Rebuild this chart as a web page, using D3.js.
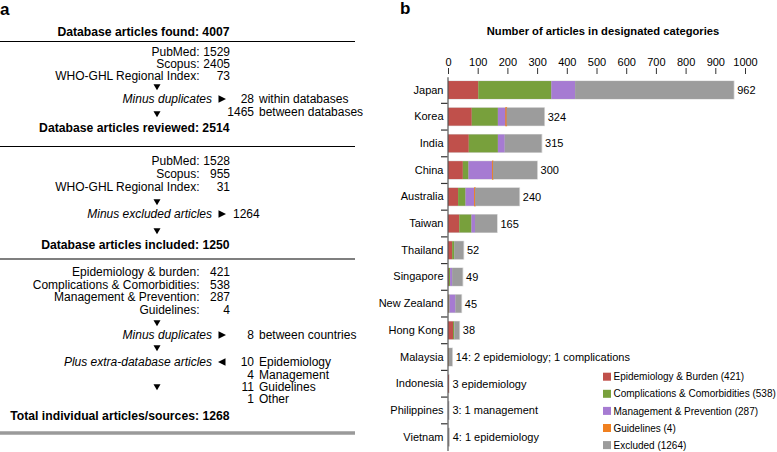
<!DOCTYPE html>
<html><head><meta charset="utf-8">
<script src="https://cdn.jsdelivr.net/npm/d3@7"></script>
<style>
body{margin:0;background:#fff;}
svg{font-family:"Liberation Sans",Arial,Helvetica,sans-serif;}
</style></head>
<body><svg id="chart" width="777" height="452"></svg>
<script>
// ---------- Panel a data (flow diagram) ----------
const stageTitles = ["Database articles found: 4007", "Database articles reviewed: 2514",
  "Database articles included: 1250", "Total individual articles/sources: 1268"];
const sourcesFound = [["PubMed:", 1529], ["Scopus:", 2405], ["WHO-GHL Regional Index:", 73]];
const duplicatesLabel = "Minus duplicates";
const duplicatesRemoved = [[28, "within databases"], [1465, "between databases"]];
const sourcesReviewed = [["PubMed:", 1528], ["Scopus:", 955], ["WHO-GHL Regional Index:", 31]];
const excludedLabel = "Minus excluded articles";
const excludedCount = 1264;
const includedCategories = [["Epidemiology & burden:", 421], ["Complications & Comorbidities:", 538],
  ["Management & Prevention:", 287], ["Guidelines:", 4]];
const countryDuplicates = [[8, "between countries"]];
const extraLabel = "Plus extra-database articles";
const extraArticles = [[10, "Epidemiology"], [4, "Management"], [11, "Guidelines"], [1, "Other"]];

// ---------- Panel b data ----------
const chartTitle = "Number of articles in designated categories";
const countries = ["Japan", "Korea", "India", "China", "Australia", "Taiwan", "Thailand", "Singapore",
  "New Zealand", "Hong Kong", "Malaysia", "Indonesia", "Philippines", "Vietnam"];
const epidemiology  = [102, 80, 70, 50, 34, 38, 14, 3, 2, 17, 2, 3, 0, 1];
const complications = [246, 88, 98, 19, 25, 41, 7, 4, 3, 4, 1, 0, 0, 0];
const management    = [80, 27, 23, 81, 31, 12, 0, 7, 20, 1, 0, 0, 1, 0];
const guidelines    = [0, 2, 0, 1, 1, 0, 0, 0, 0, 0, 0, 0, 0, 0];
const excluded      = [534, 127, 124, 149, 149, 74, 31, 35, 20, 16, 11, 0, 2, 3];
const barLabels = ["962", "324", "315", "300", "240", "165", "52", "49", "45", "38",
  "14: 2 epidemiology; 1 complications", "3 epidemiology", "3: 1 management", "4: 1 epidemiology"];
const seriesKeys = ["epi", "comp", "mgmt", "guide", "excl"];
const seriesNames = ["Epidemiology & Burden (421)", "Complications & Comorbidities (538)",
  "Management & Prevention (287)", "Guidelines (4)", "Excluded (1264)"];
const seriesColors = ["#c0504b", "#78a03c", "#a67bd2", "#f08020", "#9c9c9c"];
const xTicks = [0, 100, 200, 300, 400, 500, 600, 700, 800, 900, 1000];

const svg = d3.select("#chart");

// ================= Panel a =================
const A = svg.append("g");
A.append("text").attr("x", 0).attr("y", 15).attr("font-size", 17).attr("font-weight", "bold").text("a");
const colonX = 199.5, numX = 230, arrowX = 157, sideX = 222, sideNumX = 254, sideWordX = 259;
function down(y){ A.append("path").attr("d", `M${arrowX-3.5},${y-2.8}L${arrowX+3.5},${y-2.8}L${arrowX},${y+3.2}Z`).attr("fill","#000"); }
function right(y){ A.append("path").attr("d", `M${sideX-3.5},${y-3.8}L${sideX+4},${y}L${sideX-3.5},${y+3.8}Z`).attr("fill","#000"); }
function left(y){ A.append("path").attr("d", `M${sideX+3.5},${y-3.8}L${sideX-4},${y}L${sideX+3.5},${y+3.8}Z`).attr("fill","#000"); }
function title(t, y){ A.append("text").attr("x", 229.5).attr("y", y+4.3).attr("text-anchor","end")
  .attr("font-size", 12.2).attr("font-weight","bold").text(t); }
function rule(y, color, w){ A.append("line").attr("x1",0).attr("x2",355).attr("y1",y).attr("y2",y)
  .attr("stroke",color).attr("stroke-width",w); }
function pairs(list, y0, dy){
  list.forEach((d,i)=>{
    const y = y0 + i*dy + 4.2;
    A.append("text").attr("x", colonX).attr("y", y).attr("text-anchor","end").attr("font-size",12).text(d[0]);
    A.append("text").attr("x", numX).attr("y", y).attr("text-anchor","end").attr("font-size",12).text(d[1]);
  });
}
function italic(t, y){ A.append("text").attr("x", 212).attr("y", y+4.2).attr("text-anchor","end")
  .attr("font-size",12).attr("font-style","italic").text(t); }
function side(list, y0, dy){
  list.forEach((d,i)=>{
    const y = y0 + i*dy + 4.2;
    A.append("text").attr("x", sideNumX).attr("y", y).attr("text-anchor","end").attr("font-size",12).text(d[0]);
    A.append("text").attr("x", sideWordX).attr("y", y).attr("font-size",12).text(d[1]);
  });
}

title(stageTitles[0], 32);
rule(41.5, "#000", 1.2);
pairs(sourcesFound, 52, 12);
down(87);
italic(duplicatesLabel, 99); right(99);
side(duplicatesRemoved, 99, 13);
down(114);
title(stageTitles[1], 128);
rule(146.5, "#000", 1.2);
pairs(sourcesReviewed, 160.5, 13);
down(202);
italic(excludedLabel, 214); right(214);
A.append("text").attr("x", 233).attr("y", 214+4.2).attr("font-size",12).text(excludedCount);
down(231);
title(stageTitles[2], 245);
rule(259, "#000", 1.2);
pairs(includedCategories, 271.5, 12.8);
down(323);
italic(duplicatesLabel, 335); right(335);
side(countryDuplicates, 335, 13);
down(348);
italic(extraLabel, 362); left(362);
side(extraArticles, 362, 12.3);
down(387);
title(stageTitles[3], 416);
rule(433, "#9a9a9a", 3.5);

// ================= Panel b =================
const B = svg.append("g");
B.append("text").attr("x", 400).attr("y", 14).attr("font-size", 17).attr("font-weight","bold").text("b");
B.append("text").attr("x", 603).attr("y", 35).attr("text-anchor","middle").attr("font-size", 11.2)
  .attr("font-weight","bold").text(chartTitle);

const rows = countries.map((c,i)=>({country:c, epi:epidemiology[i], comp:complications[i],
  mgmt:management[i], guide:guidelines[i], excl:excluded[i], label:barLabels[i]}));
const x = d3.scaleLinear().domain([0, 1000]).range([448, 745]);
const y = d3.scaleBand().domain(countries).range([76.65, 450.5]).paddingInner(0.33).paddingOuter(0.165);
const stack = d3.stack().keys(seriesKeys)(rows);

// x axis (top, no domain line)
const xa = B.append("g").attr("transform","translate(0,74)")
  .call(d3.axisTop(x).tickValues(xTicks).tickFormat(d3.format("d")).tickSize(6).tickPadding(2));
xa.select(".domain").remove();
xa.selectAll("line").attr("stroke","#333");
xa.selectAll("text").attr("font-size", 11).attr("font-family",'"Liberation Sans",Arial,sans-serif').attr("fill","#000");

// bar outlines
B.append("g").selectAll("rect").data(rows).join("rect")
  .attr("x", x(0)).attr("y", d=>y(d.country)-0.5)
  .attr("width", d=>x(d.epi+d.comp+d.mgmt+d.guide+d.excl)-x(0)+0.8)
  .attr("height", y.bandwidth()+1).attr("fill","#d8d8d8");

// stacked segments
stack.forEach((s, k)=>{
  B.append("g").selectAll("rect").data(s).join("rect")
    .attr("x", d=>x(d[0])).attr("y", d=>y(d.data.country))
    .attr("width", d=>x(d[1])-x(d[0])).attr("height", y.bandwidth())
    .attr("fill", seriesColors[k])
    .attr("stroke", seriesKeys[k]==="guide" ? seriesColors[k] : "none")
    .attr("stroke-width", d => (seriesKeys[k]==="guide" && d[1]>d[0]) ? 1.2 : 0);
});

// bar labels
B.append("g").selectAll("text").data(rows).join("text")
  .attr("x", d=>x(d.epi+d.comp+d.mgmt+d.guide+d.excl)+3.5)
  .attr("y", d=>y(d.country)+y.bandwidth()/2+4)
  .attr("font-size", 11).text(d=>d.label);

// y axis
const ya = B.append("g").attr("transform","translate(447.5,0)")
  .call(d3.axisLeft(y).tickSize(0).tickPadding(4).tickSizeOuter(0));
ya.select(".domain").attr("stroke","#555").attr("stroke-width",1.2);
ya.selectAll("text").attr("font-size", 11).attr("font-family",'"Liberation Sans",Arial,sans-serif').attr("fill","#000");
// separator dashes between categories
const step = y.step();
B.append("g").selectAll("line").data(countries.slice(1)).join("line")
  .attr("x1", 441).attr("x2", 447.5)
  .attr("y1", d=>y(d)-step*y.paddingInner()/2).attr("y2", d=>y(d)-step*y.paddingInner()/2)
  .attr("stroke","#333").attr("stroke-width",1.2);

// legend
const lg = B.append("g").selectAll("g").data(seriesNames).join("g")
  .attr("transform",(d,i)=>`translate(603,${376.7 + i*17.1})`);
lg.append("rect").attr("x",0).attr("y",-4).attr("width",8).attr("height",8).attr("fill",(d,i)=>seriesColors[i]);
lg.append("text").attr("x",10.5).attr("y",3.6).attr("font-size",10).text(d=>d);
</script></body></html>
